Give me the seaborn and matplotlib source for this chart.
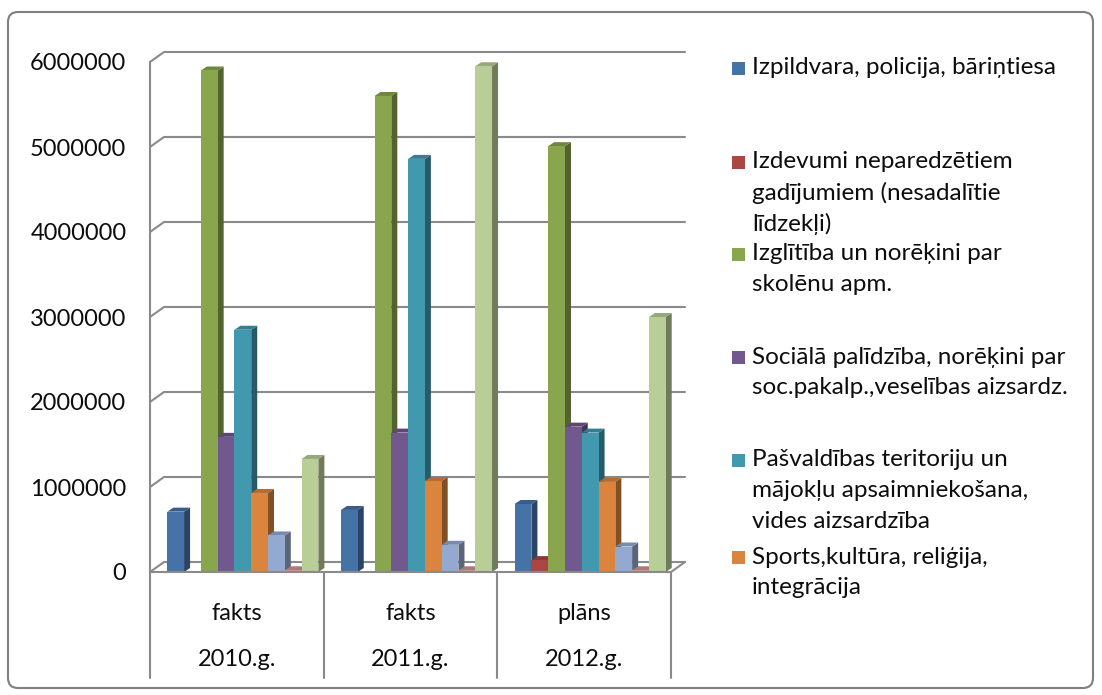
import matplotlib
matplotlib.use("Agg")
import matplotlib.pyplot as plt
import matplotlib.transforms as mtransforms
from matplotlib.patches import Polygon, FancyBboxPatch, Rectangle
import numpy as np
import pandas as pd
import seaborn as sns

# --- data ---
gadi = ["2010.g.", "2011.g.", "2012.g."]
veidi = ["fakts", "fakts", "plāns"]

pozicijas = [
    "Izpildvara, policija, bāriņtiesa",
    "Izdevumi neparedzētiem gadījumiem (nesadalītie līdzekļi)",
    "Izglītība un norēķini par skolēnu apm.",
    "Sociālā palīdzība, norēķini par soc.pakalp.,veselības aizsardz.",
    "Pašvaldības teritoriju un mājokļu apsaimniekošana, vides aizsardzība",
    "Sports,kultūra, reliģija, integrācija",
    "Sērija 7",
    "Sērija 8",
    "Sērija 9",
]

izpildvara = [710000, 730000, 800000]
neparedzetie = [0, 0, 140000]
izglitiba = [5900000, 5600000, 5010000]
socialie = [1590000, 1640000, 1710000]
pasvaldiba = [2850000, 4860000, 1640000]
sports = [930000, 1070000, 1060000]
serija7 = [430000, 320000, 300000]
serija8 = [20000, 20000, 20000]
serija9 = [1330000, 5950000, 3000000]

krasas = ["#4572A7", "#AA4643", "#89A54E", "#71588F", "#4198AF",
          "#DB843D", "#93A9CF", "#D19392", "#B9CD96"]

# legend in the reference shows only the first six entries (wrapped)
leg_teksti = [
    ["Izpildvara, policija, bāriņtiesa"],
    ["Izdevumi neparedzētiem", "gadījumiem (nesadalītie", "līdzekļi)"],
    ["Izglītība un norēķini par", "skolēnu apm."],
    ["Sociālā palīdzība, norēķini par", "soc.pakalp.,veselības aizsardz."],
    ["Pašvaldības teritoriju un", "mājokļu apsaimniekošana,", "vides aizsardzība"],
    ["Sports,kultūra, reliģija,", "integrācija"],
]
leg_y = [68, 162, 254, 357, 460, 557]

rows = []
for nos, vals in zip(pozicijas, [izpildvara, neparedzetie, izglitiba, socialie,
                                  pasvaldiba, sports, serija7, serija8, serija9]):
    for g, v in zip(gadi, vals):
        rows.append({"gads": g, "pozicija": nos, "summa": v})
df = pd.DataFrame(rows)

sns.set_style("white")
plt.rcParams["font.family"] = ["Lato", "DejaVu Sans"]

W, H = 1102, 695
fig = plt.figure(figsize=(W / 100, H / 100), dpi=100)
ax_l, ax_r, ax_b, ax_t = 150, 671, 572, 62   # pixel box of the front plane
ax = fig.add_axes([ax_l / W, 1 - ax_b / H, (ax_r - ax_l) / W, (ax_b - ax_t) / H])

sns.barplot(data=df, x="gads", y="summa", hue="pozicija", order=gadi,
            hue_order=pozicijas, palette=krasas, saturation=1, width=0.87,
            errorbar=None, legend=False, ax=ax, zorder=2, linewidth=0)

ymax = 6000000
ax.set_xlim(-0.5, 2.5)
ax.set_ylim(0, ymax)
xpx = (ax_r - ax_l) / 3.0
ypx = (ax_b - ax_t) / float(ymax)

grid = "#8a8a8a"
tc = "#0d0d0d"

# pseudo 3D: side and top faces for every bar
shift = 6 / xpx
dx3, dy3 = 6 / xpx, 4 / ypx
for p in list(ax.patches):
    x = p.get_x() + shift
    p.set_x(x)
    w, h = p.get_width(), p.get_height()
    if h <= 0:
        continue
    c = np.array(p.get_facecolor()[:3])
    side = Polygon([(x + w, 0), (x + w + dx3, dy3), (x + w + dx3, h + dy3), (x + w, h)],
                   closed=True, fc=c * 0.6, ec="none", zorder=1.5, clip_on=False)
    top = Polygon([(x, h), (x + dx3, h + dy3), (x + w + dx3, h + dy3), (x + w, h)],
                  closed=True, fc=c * 0.82, ec="none", zorder=1.5, clip_on=False)
    ax.add_patch(side)
    ax.add_patch(top)

# back wall gridlines with the left-wall diagonal
gdx, gdy = 14 / xpx, 10 / ypx
ticks = np.arange(0, ymax + 1, 1000000)
for v in ticks:
    ax.plot([-0.5, -0.5 + gdx, 2.5 + gdx], [v, v + gdy, v + gdy],
            color=grid, lw=1.5, clip_on=False, zorder=0.5)

# floor front / right edge
ax.plot([-0.5, 2.5, 2.5 + gdx], [0, 0, gdy], color=grid, lw=1.5,
        clip_on=False, zorder=3)

# category table below the floor
bt = mtransforms.blended_transform_factory(ax.transData, ax.transAxes)
tab_bottom = -(678 - ax_b) / (ax_b - ax_t)
for xb in [-0.5, 0.5, 1.5, 2.5]:
    ytop = 1 if xb == -0.5 else 0
    ax.plot([xb, xb], [tab_bottom, ytop], color=grid, lw=1.5,
            transform=bt, clip_on=False, zorder=3)
for i, (g, v) in enumerate(zip(gadi, veidi)):
    ax.text(i, -(613 - ax_b) / (ax_b - ax_t), v, transform=bt,
            ha="center", va="center", fontsize=17, color=tc)
    ax.text(i, -(660 - ax_b) / (ax_b - ax_t), g, transform=bt,
            ha="center", va="center", fontsize=17, color=tc)

ax.set_yticks(ticks)
ax.set_yticklabels([str(int(t)) for t in ticks])
ax.set_xticks([])
ax.set_xlabel("")
ax.set_ylabel("")
ax.tick_params(axis="y", length=7, width=1.5, color=grid, pad=10,
               labelsize=17, labelcolor=tc)
for s in ax.spines.values():
    s.set_visible(False)

# legend drawn by hand to keep the uneven spacing of the original
for teksts, c, y0 in zip(leg_teksti, krasas, leg_y):
    fig.patches.append(Rectangle((732 / W, 1 - (y0 + 6.5) / H), 13 / W, 13 / H,
                                 transform=fig.transFigure, fc=c, ec="none"))
    for k, line in enumerate(teksts):
        fig.text(752 / W, 1 - (y0 + k * 30.8) / H, line, ha="left",
                 va="center", fontsize=17.5, color=tc)

# outer chart border
fig.patches.append(FancyBboxPatch((8, 7), 1085, 676,
                                  boxstyle="round,pad=0,rounding_size=10",
                                  transform=mtransforms.IdentityTransform(),
                                  fc="none", ec="#7f7f7f", lw=1.5))

fig.savefig("out.png", dpi=100)
